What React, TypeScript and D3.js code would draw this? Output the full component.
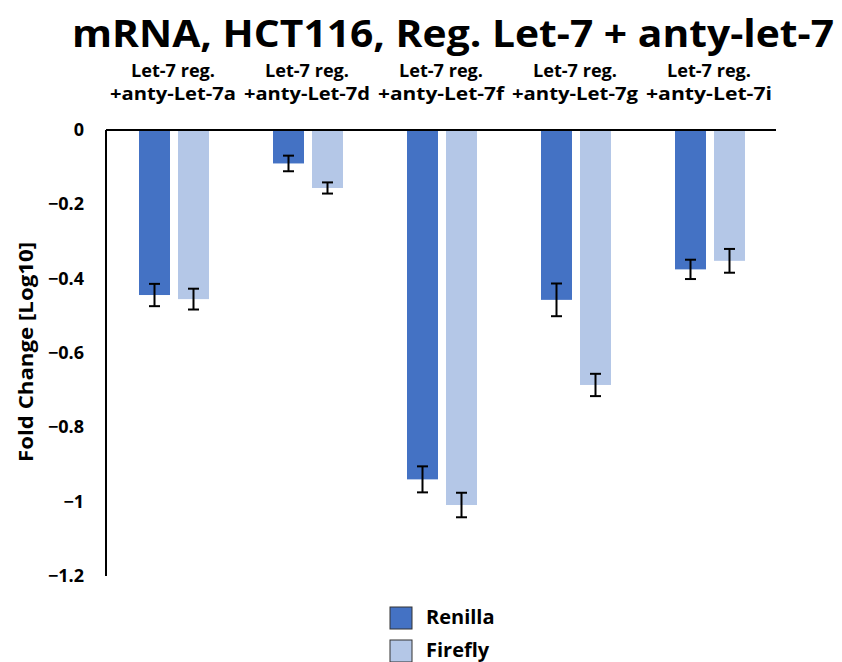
import React from "react";
import * as d3 from "d3";

const categories = ["+anty-Let-7a", "+anty-Let-7d", "+anty-Let-7f", "+anty-Let-7g", "+anty-Let-7i"];
const seriesNames = ["Renilla", "Firefly"];
const renilla = [-0.444, -0.09, -0.94, -0.457, -0.375];
const firefly = [-0.455, -0.156, -1.009, -0.686, -0.352];
const renillaErr = [0.03, 0.021, 0.035, 0.044, 0.026];
const fireflyErr = [0.028, 0.015, 0.033, 0.03, 0.032];
const yTicks = [0, -0.2, -0.4, -0.6, -0.8, -1, -1.2];
const colors = ["#4472C4", "#B4C7E7"];

const W = 842;
const H = 662;
const left = 106;
const right = 776;
const top = 130;
const bottom = 576;
const font = "'Open Sans', Arial, sans-serif";

export default function App() {
  const x = d3.scaleBand<string>().domain(categories).range([left, right]).paddingInner(0).paddingOuter(0);
  const x1 = d3.scaleBand<string>().domain(seriesNames).range([0, 70]).paddingInner(8 / 39);
  const y = d3.scaleLinear().domain([-1.2, 0]).range([bottom, top]);
  const series = [
    { name: "Renilla", vals: renilla, errs: renillaErr, color: colors[0] },
    { name: "Firefly", vals: firefly, errs: fireflyErr, color: colors[1] },
  ];
  const groupOffset = (x.bandwidth() - 70) / 2 + 1;
  return (
    <svg width={W} height={H} style={{ position: "absolute", left: 0, top: 0, background: "#fff" }}>
      <rect x={0} y={0} width={W} height={H} fill="#fff" />
      <text x={453} y={47} textAnchor="middle" fontFamily={font} fontWeight="bold" fontSize={38} textLength={762} lengthAdjust="spacingAndGlyphs" fill="#000">
        mRNA, HCT116, Reg. Let-7 + anty-let-7
      </text>
      {categories.map((c) => {
        const cx = (x(c) as number) + x.bandwidth() / 2;
        return (
          <g key={c}>
            <text x={cx} y={77} textAnchor="middle" fontFamily={font} fontWeight="bold" fontSize={17} textLength={84} lengthAdjust="spacingAndGlyphs">Let-7 reg.</text>
            <text x={cx} y={100} textAnchor="middle" fontFamily={font} fontWeight="bold" fontSize={17} textLength={126} lengthAdjust="spacingAndGlyphs">{c}</text>
          </g>
        );
      })}
      {series.map((s) =>
        categories.map((c, i) => {
          const bx = (x(c) as number) + groupOffset + (x1(s.name) as number);
          const bw = x1.bandwidth();
          const v = s.vals[i];
          const e = s.errs[i];
          const cx = bx + bw / 2;
          return (
            <g key={s.name + c}>
              <rect x={bx} y={y(0)} width={bw} height={y(v) - y(0)} fill={s.color} />
              <line x1={cx} x2={cx} y1={y(v + e)} y2={y(v - e)} stroke="#000" strokeWidth={2} />
              <line x1={cx - 5.5} x2={cx + 5.5} y1={y(v + e)} y2={y(v + e)} stroke="#000" strokeWidth={2} />
              <line x1={cx - 5.5} x2={cx + 5.5} y1={y(v - e)} y2={y(v - e)} stroke="#000" strokeWidth={2} />
            </g>
          );
        })
      )}
      <line x1={left} x2={right} y1={y(0)} y2={y(0)} stroke="#000" strokeWidth={2} />
      <line x1={left} x2={left} y1={y(0)} y2={y(-1.2)} stroke="#000" strokeWidth={2} />
      {yTicks.map((t) => (
        <text key={t} x={84} y={y(t) + 6} textAnchor="end" fontFamily={font} fontWeight="bold" fontSize={18}>
          {d3.format("")(t)}
        </text>
      ))}
      <text transform={`translate(33,352) rotate(-90)`} textAnchor="middle" fontFamily={font} fontWeight="bold" fontSize={19} textLength={220} lengthAdjust="spacingAndGlyphs">
        Fold Change [Log10]
      </text>
      {series.map((s, i) => (
        <g key={s.name} transform={`translate(390, ${607 + i * 33})`}>
          <rect x={0} y={0} width={22} height={22} fill={s.color} stroke="#333" strokeWidth={1} />
          <text x={36} y={17} fontFamily={font} fontWeight="bold" fontSize={20}>{s.name}</text>
        </g>
      ))}
    </svg>
  );
}
